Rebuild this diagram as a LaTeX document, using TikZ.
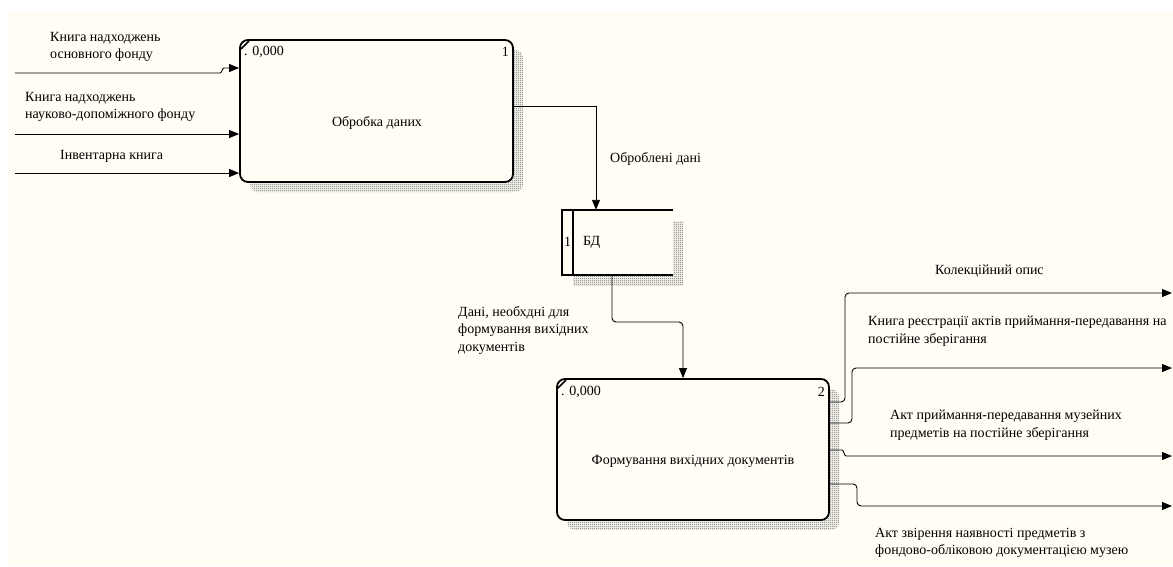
\documentclass[tikz,border=0pt]{standalone}
\usepackage{fontspec}
\setmainfont{Liberation Serif}
\usetikzlibrary{arrows.meta,patterns,calc}
\definecolor{cream}{RGB}{255,253,244}
\pgfdeclarepatternformonly{finechk}{\pgfpointorigin}{\pgfpoint{2pt}{2pt}}{\pgfpoint{2pt}{2pt}}{%
  \pgfpathrectangle{\pgfpointorigin}{\pgfpoint{1pt}{1pt}}%
  \pgfpathrectangle{\pgfpoint{1pt}{1pt}}{\pgfpoint{1pt}{1pt}}%
  \pgfusepath{fill}}
\begin{document}
\begin{tikzpicture}[x=1pt,y=-1pt,
  font=\fontsize{14}{17.5}\selectfont,
  arr/.style={-{Triangle[length=10pt,width=8pt]}, line width=0.9pt, rounded corners=4pt},
  procbox/.style={draw, line width=1.8pt, rounded corners=8pt, fill=cream, inner sep=0},
  shadowbox/.style={pattern=finechk, pattern color=black!60},
  lbl/.style={inner sep=0, align=left, anchor=north west},
  cornermark/.style={line width=1.6pt}]
\useasboundingbox (0,0) rectangle (1173,566);
\fill[white] (0,0) rectangle (1173,566);
\fill[cream] (8,11) rectangle (1173,566);

% shadows
\fill[shadowbox, rounded corners=8pt] (250,50) rectangle (523,192);
\fill[shadowbox, rounded corners=8pt] (567,389) rectangle (839,530);
\fill[shadowbox] (573,221) rectangle (683,285);

% process boxes
\node[procbox, minimum width=273pt, minimum height=142pt] (p1) at (376.5,111) {};
\node[procbox, minimum width=272pt, minimum height=141pt] (p2) at (693,449.5) {};
\draw[cornermark] (241,49) -- (249,41);
\draw[cornermark] (558,388) -- (566,380);
\node (p1t) at (377,123) {Обробка даних};
\node (p2t) at (693,461) {Формування вихідних документів};
\node[anchor=west, inner sep=0] (p1n) at (244,52) {. 0,000};
\node[anchor=east, inner sep=0] (p1k) at (509,52) {1};
\node[anchor=west, inner sep=0] (p2n) at (561,392) {. 0,000};
\node[anchor=east, inner sep=0] (p2k) at (825,392) {2};

% data store
\node[fill=cream, minimum width=111pt, minimum height=65pt, inner sep=0] (db) at (617.5,242.5) {};
\draw[line width=1.6pt] (db.north east) -- (db.north west) -- (db.south west) -- (db.south east);
\draw[line width=1.2pt] (573,210) -- (573,275);
\node[inner sep=0] (dbk) at (567.5,242) {1};
\node[anchor=west, inner sep=0] (dbt) at (583,242) {БД};

% free ends
\coordinate (in1) at (15,73);
\coordinate (in2) at (15,134);
\coordinate (in3) at (15,173);
\coordinate (out1) at (1172,293);
\coordinate (out2) at (1172,368);
\coordinate (out3) at (1172,456);
\coordinate (out4) at (1172,506);

% inputs
\draw[arr] (in1) -- (216,73) .. controls (222,73) and (222,68) .. (228,68) -- (p1.west |- 0,68);
\draw[arr] (in2) -- (p1.west |- in2);
\draw[arr] (in3) -- (p1.west |- in3);

% internal flows
\draw[arr, rounded corners=0pt] (p1.east |- 0,106) -- (596,106) -- (db.north -| 596,0);
\draw[arr] (db.south -| 612,0) -- (612,322) -- (683,322) -- (p2.north -| 683,0);

% outputs
\draw[arr] (p2.east |- 0,402) -- (845,402) -- (845,293) -- (out1);
\draw[arr] (p2.east |- 0,423) -- (852,423) -- (852,368) -- (out2);
\draw[arr] (p2.east |- 0,450) -- (838,450) .. controls (844,450) and (844,456) .. (850,456) -- (out3);
\draw[arr] (p2.east |- 0,484) -- (857,484) -- (857,506) -- (out4);

% labels
\node[lbl] (l1) at (50,32) {Книга надходжень\\основного фонду};
\node[lbl] (l2) at (25,92) {Книга надходжень\\науково-допоміжного фонду};
\node[lbl] (l3) at (60,150) {Інвентарна книга};
\node[lbl] (l4) at (610,152) {Оброблені дані};
\node[lbl] (l5) at (458,306) {Дані, необхдні для\\формування вихідних\\документів};
\node[lbl] (l6) at (935,265) {Колекційний опис};
\node[lbl] (l7) at (868,316) {Книга реєстрації актів приймання-передавання на\\постійне зберігання};
\node[lbl] (l8) at (890,410) {Акт приймання-передавання музейних\\предметів на постійне зберігання};
\node[lbl] (l9) at (875,528) {Акт звірення наявності предметів з\\фондово-обліковою документацією музею};
\end{tikzpicture}
\end{document}
